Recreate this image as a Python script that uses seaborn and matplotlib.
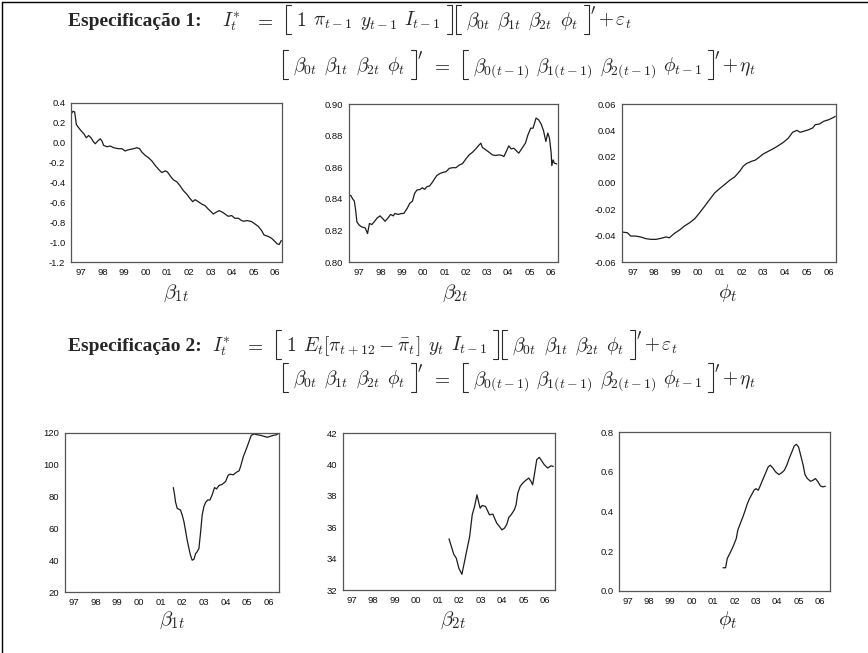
import matplotlib
matplotlib.use('Agg')
import matplotlib.pyplot as plt
import seaborn as sns
import pandas as pd
from matplotlib.lines import Line2D

sns.set_style('white')
plt.rcParams['font.family'] = ['Liberation Sans', 'DejaVu Sans']
plt.rcParams['mathtext.fontset'] = 'cm'

# --- data (decimal years, values) ---
year_ticks = [1997, 1998, 1999, 2000, 2001, 2002, 2003, 2004, 2005, 2006]

# especificacao 1
b1_s1_dates = [1996.54, 1996.61, 1996.69, 1996.77, 1996.88, 1997.00, 1997.11, 1997.23, 1997.34, 1997.45,
               1997.57, 1997.65, 1997.76, 1997.88, 1997.96, 1998.04, 1998.19, 1998.35, 1998.50, 1998.73,
               1998.89, 1999.04, 1999.15, 1999.27, 1999.43, 1999.58, 1999.71, 1999.81, 1999.97, 2000.12,
               2000.28, 2000.43, 2000.59, 2000.74, 2000.90, 2001.00, 2001.13, 2001.28, 2001.44, 2001.59,
               2001.75, 2001.90, 2002.05, 2002.18, 2002.29, 2002.44, 2002.60, 2002.75, 2002.90, 2003.06,
               2003.14, 2003.26, 2003.41, 2003.57, 2003.68, 2003.83, 2003.99, 2004.14, 2004.30, 2004.45,
               2004.56, 2004.71, 2004.91, 2005.07, 2005.22, 2005.38, 2005.49, 2005.69, 2005.84, 2006.00,
               2006.10, 2006.20, 2006.30]
b1_s1_vals = [0.293, 0.317, 0.31, 0.183, 0.15, 0.117, 0.093, 0.05, 0.073, 0.05,
              0.007, -0.01, 0.017, 0.04, 0.017, -0.027, -0.04, -0.033, -0.05, -0.06,
              -0.06, -0.083, -0.073, -0.067, -0.06, -0.05, -0.06, -0.093, -0.127, -0.15,
              -0.183, -0.227, -0.267, -0.30, -0.283, -0.293, -0.333, -0.373, -0.393, -0.433,
              -0.483, -0.517, -0.56, -0.593, -0.573, -0.593, -0.617, -0.633, -0.667, -0.70,
              -0.717, -0.70, -0.683, -0.70, -0.717, -0.74, -0.733, -0.76, -0.76, -0.783,
              -0.79, -0.783, -0.793, -0.817, -0.84, -0.883, -0.927, -0.943, -0.96, -0.993,
              -1.017, -1.023, -0.983]

b2_s1_dates = [1996.54, 1996.61, 1996.69, 1996.77, 1996.83, 1996.89, 1997.00, 1997.12, 1997.28, 1997.39,
               1997.48, 1997.59, 1997.70, 1997.85, 1997.98, 1998.10, 1998.21, 1998.36, 1998.47, 1998.60,
               1998.67, 1998.83, 1998.98, 1999.09, 1999.25, 1999.37, 1999.50, 1999.60, 1999.71, 1999.84,
               1999.96, 2000.07, 2000.18, 2000.30, 2000.43, 2000.53, 2000.64, 2000.80, 2000.95, 2001.08,
               2001.23, 2001.39, 2001.54, 2001.70, 2001.85, 2002.01, 2002.16, 2002.32, 2002.47, 2002.60,
               2002.71, 2002.78, 2002.94, 2003.09, 2003.25, 2003.40, 2003.56, 2003.71, 2003.79, 2003.90,
               2004.02, 2004.13, 2004.26, 2004.41, 2004.49, 2004.64, 2004.80, 2004.92, 2005.05, 2005.16,
               2005.23, 2005.30, 2005.42, 2005.54, 2005.65, 2005.76, 2005.85, 2005.93, 2006.01, 2006.04,
               2006.10, 2006.16, 2006.27]
b2_s1_vals = [0.8424, 0.842, 0.840, 0.8386, 0.833, 0.8254, 0.8233, 0.8222, 0.8216, 0.818,
              0.8244, 0.8237, 0.8254, 0.828, 0.8292, 0.8275, 0.8258, 0.828, 0.8301, 0.8292,
              0.8307, 0.8301, 0.8307, 0.8307, 0.8339, 0.8371, 0.8386, 0.8434, 0.8456, 0.8458,
              0.847, 0.846, 0.8477, 0.8481, 0.8504, 0.8525, 0.8547, 0.8561, 0.8568, 0.8572,
              0.8593, 0.8597, 0.8597, 0.8614, 0.8623, 0.8653, 0.8678, 0.8695, 0.8716, 0.8737,
              0.8752, 0.8725, 0.871, 0.8695, 0.8678, 0.8674, 0.8678, 0.8674, 0.8667, 0.8699,
              0.8735, 0.8716, 0.872, 0.8699, 0.8689, 0.872, 0.8752, 0.8805, 0.8847, 0.8847,
              0.8879, 0.8911, 0.890, 0.8873, 0.8831, 0.8763, 0.8816, 0.8784, 0.8689, 0.861,
              0.8646, 0.8625, 0.8621]

phi_s1_dates = [1996.55, 1996.77, 1996.92, 1997.15, 1997.38, 1997.62, 1997.85, 1998.08, 1998.31, 1998.54,
                1998.69, 1998.92, 1999.15, 1999.38, 1999.62, 1999.85, 2000.08, 2000.31, 2000.54, 2000.77,
                2001.00, 2001.23, 2001.46, 2001.69, 2001.92, 2002.08, 2002.23, 2002.46, 2002.62, 2002.77,
                2003.00, 2003.23, 2003.46, 2003.69, 2003.92, 2004.15, 2004.34, 2004.54, 2004.69, 2004.85,
                2005.08, 2005.26, 2005.38, 2005.57, 2005.77, 2006.00, 2006.23, 2006.30]
phi_s1_vals = [-0.0373, -0.0378, -0.0403, -0.0403, -0.041, -0.0423, -0.0428, -0.0428, -0.042, -0.041,
               -0.0416, -0.0383, -0.0358, -0.0327, -0.0302, -0.0272, -0.0226, -0.0176, -0.0125, -0.0075,
               -0.0042, -0.0011, 0.0021, 0.0047, 0.0090, 0.0128, 0.0148, 0.0165, 0.0173, 0.0191,
               0.0221, 0.0241, 0.0261, 0.0284, 0.0309, 0.0342, 0.0385, 0.0400, 0.0385, 0.0393,
               0.0405, 0.0418, 0.0443, 0.0448, 0.0469, 0.0481, 0.0499, 0.0507]

# especificacao 2
b1_s2_dates = [2001.59, 2001.65, 2001.69, 2001.77, 2001.85, 2001.92, 2002.00, 2002.08, 2002.15, 2002.23,
               2002.31, 2002.38, 2002.46, 2002.54, 2002.62, 2002.69, 2002.77, 2002.85, 2002.92, 2003.00,
               2003.08, 2003.18, 2003.28, 2003.38, 2003.49, 2003.58, 2003.69, 2003.85, 2004.00, 2004.11,
               2004.20, 2004.35, 2004.51, 2004.62, 2004.69, 2004.82, 2004.97, 2005.08, 2005.18, 2005.31,
               2005.46, 2005.62, 2005.77, 2005.92, 2006.05, 2006.20, 2006.35, 2006.46]
b1_s2_vals = [85.7, 81.1, 76.8, 72.6, 72.0, 71.6, 68.4, 64.2, 58.9, 52.6,
              47.4, 43.2, 40.0, 40.6, 44.2, 45.3, 47.4, 57.9, 68.4, 73.7,
              76.4, 77.9, 77.9, 81.1, 85.7, 84.8, 86.9, 87.8, 89.5, 93.3,
              94.1, 93.7, 95.4, 96.2, 98.9, 105.3, 110.5, 114.7, 118.5, 119.4,
              118.9, 118.5, 117.9, 117.3, 117.9, 118.5, 118.9, 120.0]

b2_s2_dates = [2001.53, 2001.64, 2001.75, 2001.87, 2001.99, 2002.13, 2002.22, 2002.33, 2002.49, 2002.61,
               2002.72, 2002.83, 2002.92, 2002.98, 2003.07, 2003.23, 2003.34, 2003.41, 2003.57, 2003.65,
               2003.75, 2003.88, 2003.99, 2004.11, 2004.22, 2004.31, 2004.42, 2004.57, 2004.65, 2004.73,
               2004.84, 2004.96, 2005.08, 2005.24, 2005.35, 2005.42, 2005.50, 2005.61, 2005.73, 2005.86,
               2005.96, 2006.12, 2006.27, 2006.38]
b2_s2_vals = [35.26, 34.77, 34.28, 34.02, 33.38, 33.0, 33.6, 34.34, 35.4, 36.79,
              37.32, 38.06, 37.53, 37.21, 37.38, 37.32, 37.0, 36.79, 36.83, 36.57,
              36.26, 36.04, 35.83, 35.94, 36.19, 36.62, 36.79, 37.11, 37.43, 38.17,
              38.6, 38.81, 38.96, 39.13, 38.91, 38.7, 39.34, 40.3, 40.45, 40.19,
              39.98, 39.77, 39.91, 39.87]

phi_s2_dates = [2001.46, 2001.58, 2001.66, 2001.78, 2001.89, 2001.99, 2002.08, 2002.15, 2002.27, 2002.39,
                2002.50, 2002.60, 2002.70, 2002.80, 2002.91, 2003.00, 2003.11, 2003.21, 2003.34, 2003.46,
                2003.57, 2003.67, 2003.79, 2003.92, 2004.07, 2004.22, 2004.33, 2004.44, 2004.56, 2004.68,
                2004.79, 2004.89, 2004.99, 2005.09, 2005.20, 2005.29, 2005.40, 2005.55, 2005.66, 2005.78,
                2005.90, 2006.01, 2006.12, 2006.24]
phi_s2_vals = [0.117, 0.117, 0.164, 0.189, 0.214, 0.239, 0.264, 0.306, 0.340, 0.373,
               0.407, 0.440, 0.465, 0.485, 0.507, 0.515, 0.507, 0.532, 0.566, 0.596,
               0.624, 0.633, 0.619, 0.599, 0.586, 0.596, 0.608, 0.633, 0.669, 0.700,
               0.730, 0.738, 0.725, 0.683, 0.636, 0.586, 0.566, 0.552, 0.557, 0.566,
               0.549, 0.529, 0.524, 0.527]

yticks_b1_s1 = [-1.2, -1.0, -0.8, -0.6, -0.4, -0.2, 0.0, 0.2, 0.4]
yticks_b2_s1 = [0.80, 0.82, 0.84, 0.86, 0.88, 0.90]
yticks_phi_s1 = [-0.06, -0.04, -0.02, 0.00, 0.02, 0.04, 0.06]
yticks_b1_s2 = [20, 40, 60, 80, 100, 120]
yticks_b2_s2 = [32, 34, 36, 38, 40, 42]
yticks_phi_s2 = [0.0, 0.2, 0.4, 0.6, 0.8]

# equation pieces (math text), "[" / "]" / "]'" are drawn as tall brackets
eq1_top = [r'$I_t^{*}$', '$=$', '[', '$1$', r'$\pi_{t-1}$', r'$y_{t-1}$', r'$I_{t-1}$', ']',
           '[', r'$\beta_{0t}$', r'$\beta_{1t}$', r'$\beta_{2t}$', r'$\phi_t$', "]'", r'$+\,\varepsilon_t$']
eq2_top = [r'$I_t^{*}$', '$=$', '[', '$1$', r'$E_t[\pi_{t+12}-\bar{\pi}_t]$', r'$y_t$', r'$I_{t-1}$', ']',
           '[', r'$\beta_{0t}$', r'$\beta_{1t}$', r'$\beta_{2t}$', r'$\phi_t$', "]'", r'$+\,\varepsilon_t$']
eq_state = ['[', r'$\beta_{0t}$', r'$\beta_{1t}$', r'$\beta_{2t}$', r'$\phi_t$', "]'", '$=$',
            '[', r'$\beta_{0(t-1)}$', r'$\beta_{1(t-1)}$', r'$\beta_{2(t-1)}$', r'$\phi_{t-1}$', "]'",
            r'$+\,\eta_t$']

W, H = 868, 653
fig = plt.figure(figsize=(W / 100, H / 100), dpi=100)
fig.patch.set_facecolor('white')
renderer = fig.canvas.get_renderer()

# thin frame on left and top, like the scanned page
fig.add_artist(Line2D([2 / W, 2 / W], [0, 1 - 2 / H], color='black', lw=1.0))
fig.add_artist(Line2D([2 / W, 1], [1 - 2 / H, 1 - 2 / H], color='black', lw=1.0))


def fx(x):
    return x / W


def fy(y):
    return 1 - y / H


def draw_equation(x, base, pieces, size=14, gap=7):
    top, bot, arm = base - 21, base + 8, 5
    for p in pieces:
        if p == '[':
            xs = [x + arm, x, x, x + arm]
            fig.add_artist(Line2D([fx(v) for v in xs], [fy(top), fy(top), fy(bot), fy(bot)],
                                  color='#2a2a2a', lw=0.8))
            x += gap + 3
        elif p in (']', "]'"):
            x = x - gap + 11
            xs = [x - arm, x, x, x - arm]
            fig.add_artist(Line2D([fx(v) for v in xs], [fy(top), fy(top), fy(bot), fy(bot)],
                                  color='#2a2a2a', lw=0.8))
            if p == "]'":
                fig.text(fx(x + 1), fy(top - 2), r'$\prime$', fontsize=11, va='top', ha='left')
                x += 5
            x += 4
        else:
            pad = 6 if p == '$=$' else 0
            x += pad
            t = fig.text(fx(x), fy(base), p, fontsize=size, va='baseline', ha='left')
            x += t.get_window_extent(renderer).width + gap + pad
    return x


def add_panel(box, dates, vals, yticks, fmt, xlim, label, label_xy):
    l, t, r, b = box
    ax = fig.add_axes([l / W, 1 - b / H, (r - l) / W, (b - t) / H])
    df = pd.DataFrame({'date': dates, 'value': vals})
    sns.lineplot(data=df, x='date', y='value', ax=ax, color='#1c1c1c', lw=0.9)
    ax.set_xlim(*xlim)
    ax.set_ylim(yticks[0], yticks[-1])
    ax.set_xticks(year_ticks)
    ax.set_xticklabels(['%02d' % (y % 100) for y in year_ticks])
    ax.set_yticks(yticks)
    ax.set_yticklabels([fmt % v for v in yticks])
    ax.set_xlabel('')
    ax.set_ylabel('')
    ax.tick_params(axis='both', direction='out', length=2.5, width=0.6, labelsize=6.8, pad=1.5,
                   color='#333333', labelcolor='#111111')
    for s in ax.spines.values():
        s.set_visible(True)
        s.set_color('#555555')
        s.set_linewidth(0.9)
    fig.text(fx(label_xy[0]), fy(label_xy[1]), label, fontsize=15, ha='center', va='center')
    return ax


top_xlim = (1996.52, 2006.33)
bot_xlim = (1996.6, 2006.46)

add_panel((71, 103, 282, 262), b1_s1_dates, b1_s1_vals, yticks_b1_s1, '%.1f', top_xlim,
          r'$\beta_{1t}$', (176, 293))
add_panel((349, 104, 558, 262), b2_s1_dates, b2_s1_vals, yticks_b2_s1, '%.2f', top_xlim,
          r'$\beta_{2t}$', (455, 293))
add_panel((622, 104, 836, 262), phi_s1_dates, phi_s1_vals, yticks_phi_s1, '%.2f', top_xlim,
          r'$\phi_t$', (728, 293))

add_panel((65, 433, 279, 592), b1_s2_dates, b1_s2_vals, yticks_b1_s2, '%d', bot_xlim,
          r'$\beta_{1t}$', (172, 620))
add_panel((343, 433, 555, 590), b2_s2_dates, b2_s2_vals, yticks_b2_s2, '%d', bot_xlim,
          r'$\beta_{2t}$', (453, 620))
add_panel((619, 432, 830, 591), phi_s2_dates, phi_s2_vals, yticks_phi_s2, '%.1f', bot_xlim,
          r'$\phi_t$', (728, 620))

# equations
spec_font = dict(family=['Liberation Serif', 'DejaVu Serif'], weight='bold', size=14)
fig.text(fx(68), fy(26), 'Especificação 1:', fontdict=spec_font, va='baseline')
draw_equation(222, 26, eq1_top)
draw_equation(283, 71, eq_state)

fig.text(fx(68), fy(351), 'Especificação 2:', fontdict=spec_font, va='baseline')
draw_equation(212, 351, eq2_top)
draw_equation(283, 384, eq_state)

fig.savefig('out.png', dpi=100, facecolor='white')
